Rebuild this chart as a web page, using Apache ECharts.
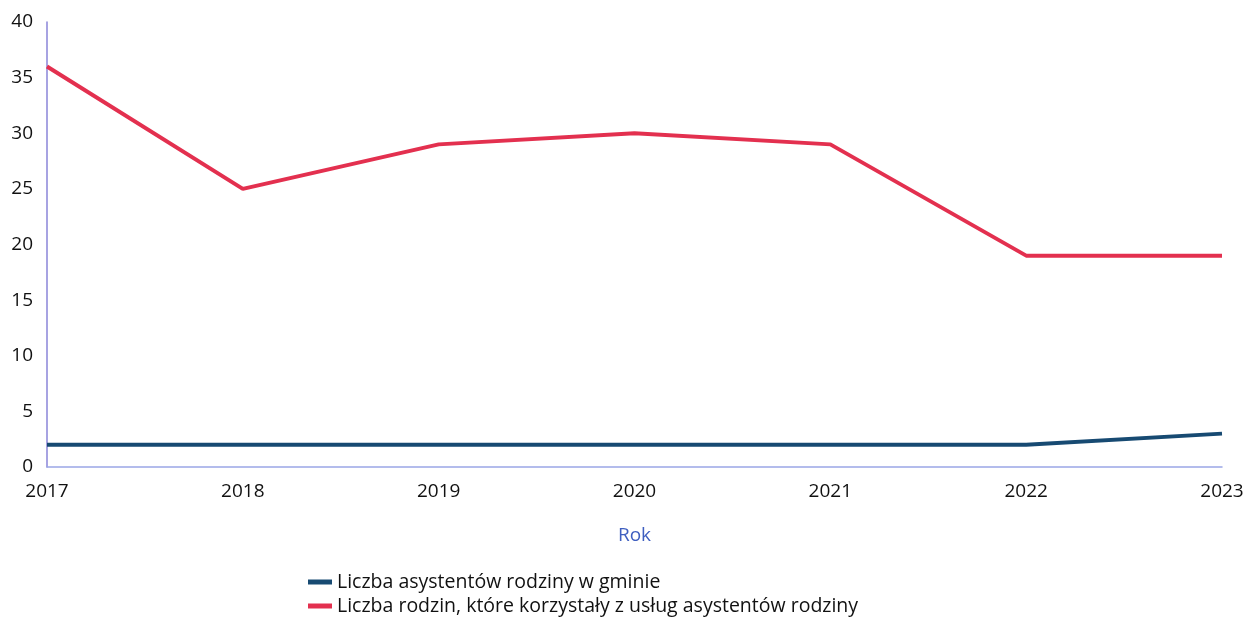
<!DOCTYPE html>
<html><head><meta charset="utf-8">
<script src="https://cdn.jsdelivr.net/npm/echarts@6/dist/echarts.min.js"></script>
<style>html,body{margin:0;padding:0;background:#fff}#c{width:1252px;height:619px}</style>
</head><body><div id="c"></div>
<script>
const years = ['2017','2018','2019','2020','2021','2022','2023'];
const asystenci = [2, 2, 2, 2, 2, 2, 3];
const rodziny = [36, 25, 29, 30, 29, 19, 19];
const seriesNames = ['Liczba asystentów rodziny w gminie', 'Liczba rodzin, które korzystały z usług asystentów rodziny'];

const chart = echarts.init(document.getElementById('c'));
const font = 'Open Sans';
const legendBase = {
  orient: 'horizontal', left: 303,
  icon: 'rect', itemWidth: 24, itemHeight: 5, itemGap: 8,
  textStyle: {fontFamily: font, fontSize: 19.5, color: '#111'}
};
chart.setOption({
  animation: false,
  grid: {left: 47, right: 30, top: 22, bottom: 152},
  legend: [
    Object.assign({}, legendBase, {top: 567, data: [seriesNames[0]]}),
    Object.assign({}, legendBase, {top: 591, data: [seriesNames[1]]})
  ],
  xAxis: {
    type: 'category', data: years, boundaryGap: false,
    name: 'Rok', nameLocation: 'middle', nameGap: 59,
    nameTextStyle: {fontFamily: font, fontSize: 19, color: '#3f5fc0'},
    axisLine: {lineStyle: {color: '#9aa6e6', width: 1.5}},
    axisTick: {show: false},
    axisLabel: {fontFamily: font, fontSize: 19, color: '#111', margin: 15}
  },
  yAxis: {
    type: 'value', min: 0, max: 40, interval: 5,
    axisLine: {show: true, lineStyle: {color: '#8a84d8', width: 1.5}},
    axisTick: {show: false},
    splitLine: {show: false},
    axisLabel: {fontFamily: font, fontSize: 19, color: '#111', margin: 14}
  },
  series: [
    {name: seriesNames[0], type: 'line', data: asystenci, symbol: 'none',
     lineStyle: {color: '#174a72', width: 4}, itemStyle: {color: '#174a72'}},
    {name: seriesNames[1], type: 'line', data: rodziny, symbol: 'none',
     lineStyle: {color: '#e3304f', width: 4}, itemStyle: {color: '#e3304f'}}
  ]
});
</script></body></html>
